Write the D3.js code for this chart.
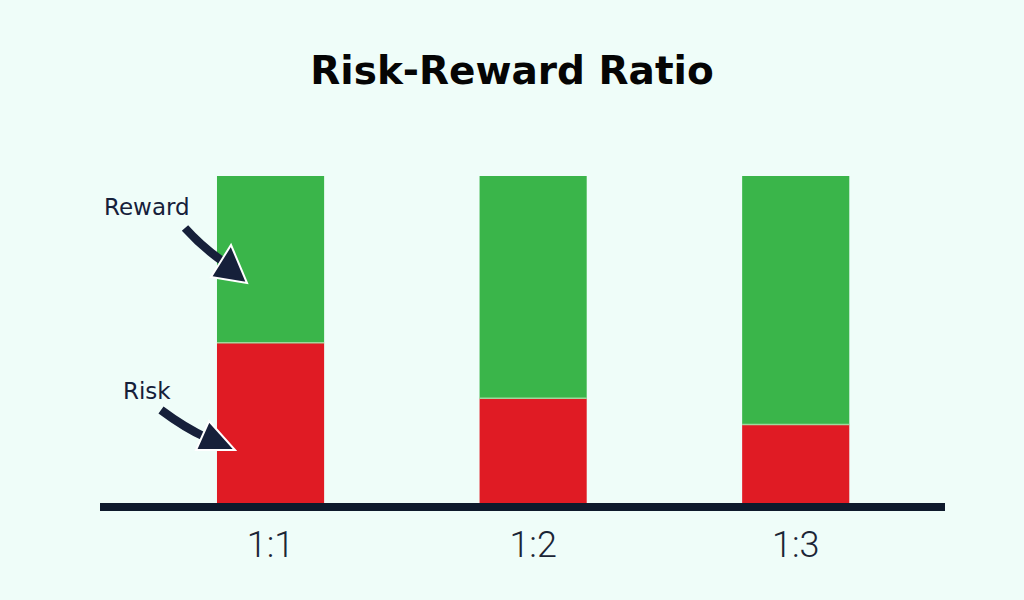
<!DOCTYPE html>
<html>
<head>
<meta charset="utf-8">
<script src="https://cdn.jsdelivr.net/npm/d3@7"></script>
<style>
  html, body { margin: 0; padding: 0; background: #effdf9; }
  svg { display: block; }
</style>
</head>
<body>
<svg id="chart"></svg>
<script>
// ratios on the x axis
const ratios = ['1:1', '1:2', '1:3'];
// share of each bar (percent of full height)
const riskShare = [49, 32, 24];
const rewardShare = [51, 68, 76];

const width = 1024;
const height = 600;

const svg = d3.select('#chart')
    .attr('width', width)
    .attr('height', height);

svg.append('rect')
    .attr('width', width)
    .attr('height', height)
    .attr('fill', '#effdf9');

svg.append('text')
    .attr('x', 512)
    .attr('y', 84)
    .attr('text-anchor', 'middle')
    .attr('font-family', '"DejaVu Sans", sans-serif')
    .attr('font-weight', 'bold')
    .attr('font-size', 39)
    .attr('fill', '#050505')
    .text('Risk-Reward Ratio');

let x = d3.scaleBand()
    .domain(ratios)
    .range([100, 945])
    .paddingInner(0.592)
    .paddingOuter(0.405)
    .align(0.55);

let y = d3.scaleLinear()
    .domain([0, 100])
    .range([503, 176]);

let rows = ratios.map(function(r, i) {
    return { ratio: r, risk: riskShare[i], reward: rewardShare[i] };
});

let stack = d3.stack().keys(['risk', 'reward']);
let colors = { risk: '#e01b24', reward: '#3ab54a' };

svg.append('g')
    .selectAll('g')
    .data(stack(rows))
    .enter()
    .append('g')
    .attr('fill', function(d) { return colors[d.key]; })
    .selectAll('rect')
    .data(function(d) { return d; })
    .enter()
    .append('rect')
    .attr('x', function(d) { return x(d.data.ratio); })
    .attr('y', function(d) { return y(d[1]); })
    .attr('width', x.bandwidth())
    .attr('height', function(d) { return y(d[0]) - y(d[1]); });

// thin light seam between risk and reward
svg.append('g')
    .selectAll('line')
    .data(rows)
    .enter()
    .append('line')
    .attr('x1', function(d) { return x(d.ratio); })
    .attr('x2', function(d) { return x(d.ratio) + x.bandwidth(); })
    .attr('y1', function(d) { return y(d.risk); })
    .attr('y2', function(d) { return y(d.risk); })
    .attr('stroke', '#9fd89a')
    .attr('stroke-width', 1.5);

// baseline axis
let axis = svg.append('g')
    .attr('transform', 'translate(0,' + 507 + ')')
    .call(d3.axisBottom(x).tickSize(0).tickPadding(24));

axis.select('.domain')
    .attr('d', 'M100,0H945')
    .attr('stroke', '#0e1a2c')
    .attr('stroke-width', 8);

axis.selectAll('text')
    .attr('font-family', 'Roboto, sans-serif')
    .attr('font-weight', 300)
    .attr('font-size', 36)
    .attr('fill', '#1b2536');

// annotations
const ink = '#16203a';

svg.append('text')
    .attr('x', 104)
    .attr('y', 215)
    .attr('font-family', '"DejaVu Sans", sans-serif')
    .attr('font-size', 23)
    .attr('fill', ink)
    .text('Reward');

svg.append('text')
    .attr('x', 123)
    .attr('y', 399)
    .attr('font-family', '"DejaVu Sans", sans-serif')
    .attr('font-size', 23)
    .attr('fill', ink)
    .text('Risk');

function arrow(shaft, head) {
    let g = svg.append('g');
    g.append('path')
        .attr('d', shaft)
        .attr('fill', 'none')
        .attr('stroke', ink)
        .attr('stroke-width', 8.5)
        .attr('stroke-linecap', 'butt');
    g.append('path')
        .attr('d', head)
        .attr('fill', ink)
        .attr('stroke', '#ffffff')
        .attr('stroke-width', 2)
        .attr('stroke-linejoin', 'miter');
}

arrow('M185,228 Q202,247 225,263', 'M231,245 L247,283 L211,277 Z');
arrow('M161,410 Q185,428 207,438', 'M209,421 L235,450 L196,450 Z');
</script>
</body>
</html>
